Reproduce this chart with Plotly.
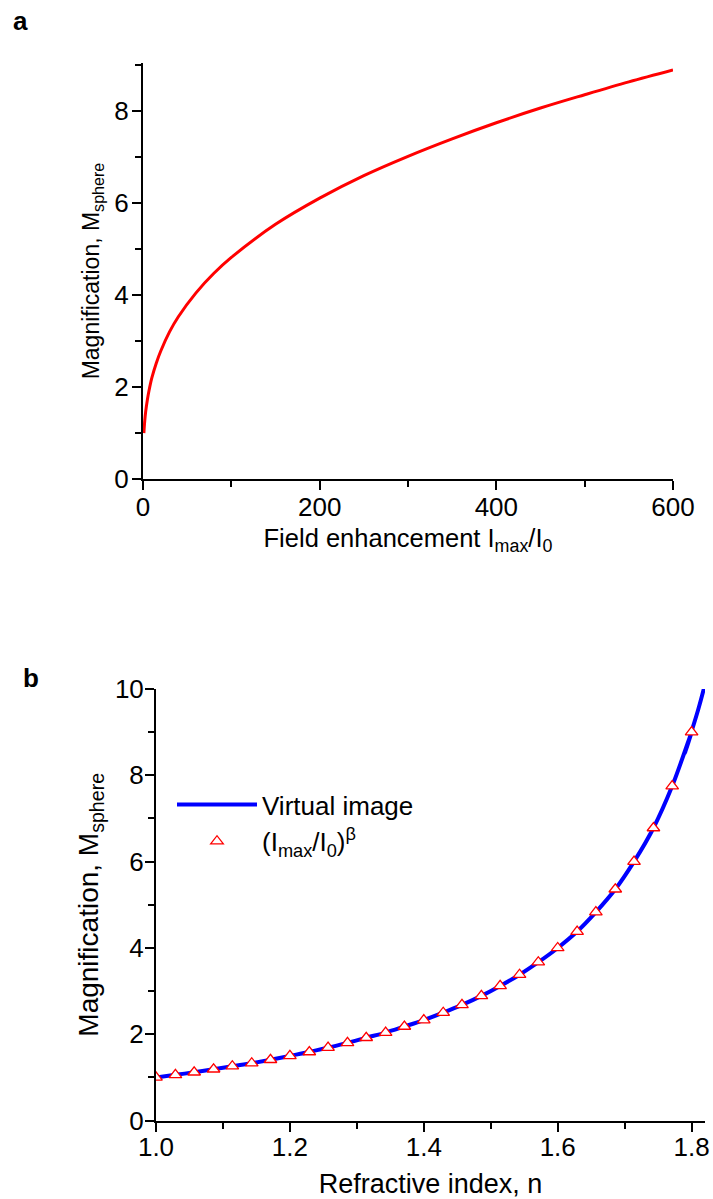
import plotly.graph_objects as go

# ---- Panel a data: magnification vs field enhancement
field_enh = [1, 2, 3, 5, 7, 10, 15, 20, 30, 40, 60, 80, 100, 150, 200, 250, 300, 350, 400, 450, 500, 550, 600]
mag_a = [1.00, 1.27, 1.46, 1.73, 1.94, 2.20, 2.52, 2.78, 3.20, 3.53, 4.05, 4.47, 4.82, 5.54, 6.11, 6.60, 7.02, 7.40, 7.75, 8.07, 8.36, 8.64, 8.90]

# ---- Panel b data: magnification vs refractive index
n_pts = [1.000, 1.029, 1.057, 1.086, 1.114, 1.143, 1.171, 1.200, 1.229, 1.257, 1.286, 1.314, 1.343, 1.371,
         1.400, 1.429, 1.457, 1.486, 1.514, 1.543, 1.571, 1.600, 1.629, 1.657, 1.686, 1.714, 1.743, 1.771, 1.800]
mag_pts = [1.00, 1.06, 1.12, 1.19, 1.26, 1.33, 1.41, 1.50, 1.59, 1.69, 1.80, 1.92, 2.04, 2.18,
           2.33, 2.50, 2.68, 2.89, 3.12, 3.38, 3.67, 4.00, 4.38, 4.83, 5.36, 6.00, 6.78, 7.75, 9.00]
n_line = n_pts + [1.790, 1.810, 1.820]
mag_line = mag_pts + [8.52, 9.53, 10.11]

x_ticks_a = [0, 200, 400, 600]
y_ticks_a = [0, 2, 4, 6, 8]
x_ticks_b = [1.0, 1.2, 1.4, 1.6, 1.8]
y_ticks_b = [0, 2, 4, 6, 8, 10]

W, H = 713, 1199
FONT = "Liberation Sans, Arial, sans-serif"

fig = go.Figure()
fig.add_trace(go.Scatter(x=field_enh, y=mag_a, mode="lines", line=dict(color="#FF0000", width=3, shape="spline"),
                         showlegend=False, xaxis="x", yaxis="y"))
fig.add_trace(go.Scatter(x=n_line, y=mag_line, mode="lines", name="Virtual image",
                         line=dict(color="#0000FF", width=4, shape="spline"), xaxis="x2", yaxis="y2"))
fig.add_trace(go.Scatter(x=n_pts, y=mag_pts, mode="markers", name="(I<sub>max</sub>/I<sub>0</sub>)<sup>β</sup>",
                         marker=dict(symbol="triangle-up", size=11, color="white",
                                     line=dict(color="#FF0000", width=1.3)),
                         xaxis="x2", yaxis="y2"))

def ax(**kw):
    base = dict(showline=True, linewidth=2, linecolor="black", ticks="outside", ticklen=9, tickwidth=2,
                tickcolor="black", showgrid=False, zeroline=False, mirror=False, automargin=False,
                tickfont=dict(family=FONT, size=26, color="black"))
    base.update(kw)
    return base

def minor(dt, t0):
    return dict(ticks="outside", ticklen=6, tickwidth=2, tickcolor="black", dtick=dt, tick0=t0, showgrid=False)

fig.update_layout(
    width=W, height=H, autosize=False,
    margin=dict(l=0, r=0, t=0, b=0, pad=0),
    paper_bgcolor="white", plot_bgcolor="white",
    font=dict(family=FONT, size=24, color="black"),
    xaxis=ax(domain=[143 / W, 673 / W], range=[0, 600], tickvals=x_ticks_a, anchor="y",
             minor=minor(100, 0), ticklabelstandoff=-5,
             title=dict(text="Field enhancement I<sub>max</sub>/I<sub>0</sub>",
                        font=dict(family=FONT, size=25.5, color="black"), standoff=8)),
    yaxis=ax(domain=[1 - 479 / H, 1 - 63 / H], range=[0, 9.05], tickvals=y_ticks_a, anchor="x",
             minor=minor(1, 0), ticklabelstandoff=-2,
             title=dict(text="Magnification, M<sub>sphere</sub>",
                        font=dict(family=FONT, size=23, color="black"), standoff=8)),
    xaxis2=ax(domain=[156 / W, 705 / W], range=[1.0, 1.82], tickvals=x_ticks_b, tickformat=".1f", anchor="y2",
              minor=minor(0.1, 1.0), ticklabelstandoff=-7,
              title=dict(text="Refractive index, n", font=dict(family=FONT, size=27, color="black"), standoff=20)),
    yaxis2=ax(domain=[1 - 1120.6 / H, 1 - 689 / H], range=[0, 10], tickvals=y_ticks_b, anchor="x2",
              minor=minor(1, 0), ticklabelstandoff=-4,
              title=dict(text="Magnification, M<sub>sphere</sub>",
                         font=dict(family=FONT, size=28, color="black"), standoff=8)),
    legend=dict(x=172 / W, y=1 - 781 / H, xanchor="left", yanchor="top", bgcolor="rgba(0,0,0,0)",
                font=dict(family=FONT, size=26, color="black"), borderwidth=0, tracegroupgap=0,
                itemwidth=80),
    annotations=[
        dict(text="<b>a</b>", x=20 / W, y=1 - 21 / H, xref="paper", yref="paper", showarrow=False,
             font=dict(family=FONT, size=26, color="black"), xanchor="center", yanchor="middle"),
        dict(text="<b>b</b>", x=31 / W, y=1 - 678 / H, xref="paper", yref="paper", showarrow=False,
             font=dict(family=FONT, size=26, color="black"), xanchor="center", yanchor="middle"),
    ],
)

fig.write_html("out.html", config={"displayModeBar": False},
               post_script="document.body.style.margin='0px';")
